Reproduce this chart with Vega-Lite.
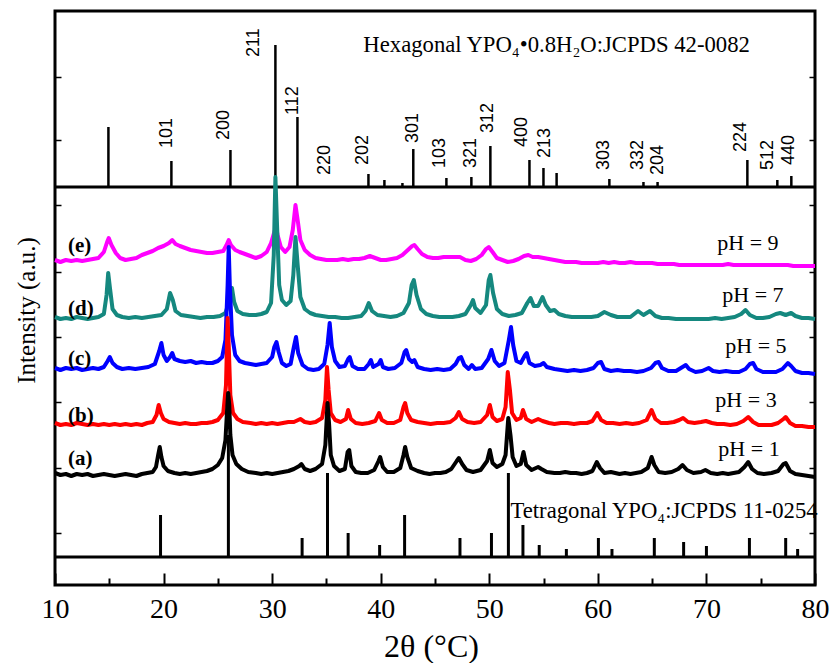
{
  "$schema": "https://vega.github.io/schema/vega-lite/v6.json",
  "width": 760,
  "height": 574,
  "autosize": {"type": "none"},
  "padding": {"left": 55, "top": 11, "right": 17, "bottom": 78},
  "background": "white",
  "config": {
    "view": {"stroke": "black", "strokeWidth": 3}
  },
  "resolve": {"axis": {"y": "independent", "x": "independent"}},
  "datasets": {
    "tet": [{"x":19.72,"y":70},{"x":25.97,"y":150},{"x":32.76,"y":47},{"x":35.1,"y":112},{"x":37.0,"y":52},{"x":39.9,"y":40},{"x":42.2,"y":70},{"x":47.3,"y":47},{"x":50.2,"y":52},{"x":51.76,"y":112},{"x":53.1,"y":60},{"x":54.6,"y":40},{"x":57.1,"y":36},{"x":60.05,"y":47},{"x":61.3,"y":36},{"x":65.2,"y":47},{"x":67.9,"y":43},{"x":70.0,"y":39},{"x":73.96,"y":47},{"x":77.3,"y":47},{"x":78.4,"y":36}],
    "hex": [{"x":14.92,"y":458},{"x":20.72,"y":424},{"x":26.16,"y":435},{"x":30.3,"y":540},{"x":32.33,"y":468},{"x":38.87,"y":411},{"x":40.34,"y":405},{"x":42.0,"y":402},{"x":43.0,"y":436},{"x":46.05,"y":407},{"x":48.35,"y":408},{"x":50.1,"y":439},{"x":53.7,"y":425},{"x":54.99,"y":417},{"x":56.2,"y":412},{"x":61.06,"y":406},{"x":64.2,"y":403},{"x":65.5,"y":403},{"x":73.77,"y":425},{"x":76.53,"y":405},{"x":77.82,"y":409}],
    "hkl": [{"t":"101","x":20.35,"y":437},{"t":"200","x":25.6,"y":445},{"t":"211","x":28.3,"y":528},{"t":"112","x":31.95,"y":470},{"t":"220","x":34.9,"y":410},{"t":"202","x":38.4,"y":420},{"t":"301","x":43.0,"y":442},{"t":"103","x":45.5,"y":417},{"t":"321","x":48.3,"y":417},{"t":"312","x":49.9,"y":452},{"t":"400","x":53.05,"y":438},{"t":"213","x":55.1,"y":427},{"t":"303","x":60.6,"y":415},{"t":"332","x":63.7,"y":415},{"t":"204","x":65.5,"y":410},{"t":"224","x":73.2,"y":433},{"t":"512","x":75.7,"y":415},{"t":"440","x":77.6,"y":420}],
    "ce": [{"x":10,"y":325},{"x":10.5,"y":323},{"x":11,"y":325},{"x":11.5,"y":324},{"x":12,"y":325},{"x":12.5,"y":324},{"x":13,"y":325},{"x":13.5,"y":326},{"x":14,"y":327},{"x":14.5,"y":333},{"x":14.8,"y":343},{"x":14.95,"y":347},{"x":15.2,"y":340},{"x":15.6,"y":332},{"x":16,"y":327},{"x":16.5,"y":325},{"x":17,"y":326},{"x":17.5,"y":327},{"x":18,"y":330},{"x":18.5,"y":332},{"x":19,"y":334},{"x":19.5,"y":337},{"x":20,"y":339},{"x":20.5,"y":342},{"x":20.8,"y":345},{"x":21.1,"y":341},{"x":21.5,"y":339},{"x":22,"y":337},{"x":22.5,"y":335},{"x":23,"y":334},{"x":23.5,"y":333},{"x":24,"y":332},{"x":24.5,"y":332},{"x":25,"y":333},{"x":25.5,"y":334},{"x":25.8,"y":340},{"x":26.0,"y":345},{"x":26.2,"y":340},{"x":26.6,"y":335},{"x":27,"y":333},{"x":27.5,"y":331},{"x":28,"y":329},{"x":28.5,"y":327},{"x":29,"y":329},{"x":29.5,"y":333},{"x":29.9,"y":342},{"x":30.2,"y":353},{"x":30.35,"y":358},{"x":30.5,"y":350},{"x":30.8,"y":338},{"x":31.2,"y":333},{"x":31.6,"y":338},{"x":31.9,"y":355},{"x":32.15,"y":380},{"x":32.35,"y":365},{"x":32.6,"y":345},{"x":33,"y":335},{"x":33.5,"y":330},{"x":34,"y":327},{"x":34.5,"y":326},{"x":35,"y":325},{"x":35.5,"y":325},{"x":36,"y":325},{"x":36.5,"y":326},{"x":37,"y":325},{"x":37.5,"y":326},{"x":38,"y":326},{"x":38.5,"y":327},{"x":39,"y":329},{"x":39.5,"y":327},{"x":40,"y":325},{"x":40.5,"y":325},{"x":41,"y":326},{"x":41.5,"y":327},{"x":42,"y":330},{"x":42.5,"y":335},{"x":42.9,"y":339},{"x":43.1,"y":340},{"x":43.4,"y":336},{"x":43.8,"y":331},{"x":44.3,"y":328},{"x":44.8,"y":327},{"x":45.3,"y":327},{"x":45.8,"y":328},{"x":46.3,"y":328},{"x":46.8,"y":328},{"x":47.3,"y":328},{"x":47.8,"y":325},{"x":48.3,"y":324},{"x":48.8,"y":326},{"x":49.3,"y":330},{"x":49.7,"y":336},{"x":49.95,"y":338},{"x":50.3,"y":333},{"x":50.7,"y":327},{"x":51.2,"y":325},{"x":51.7,"y":323},{"x":52.2,"y":324},{"x":52.7,"y":326},{"x":53.2,"y":329},{"x":53.6,"y":330},{"x":54.0,"y":328},{"x":54.5,"y":328},{"x":55,"y":327},{"x":55.5,"y":326},{"x":56,"y":325},{"x":56.5,"y":324},{"x":57,"y":323},{"x":57.5,"y":323},{"x":58,"y":323},{"x":58.5,"y":322},{"x":59,"y":322},{"x":59.5,"y":322},{"x":60,"y":322},{"x":60.5,"y":323},{"x":61,"y":322},{"x":61.5,"y":323},{"x":62,"y":322},{"x":62.5,"y":322},{"x":63,"y":323},{"x":63.5,"y":322},{"x":64,"y":322},{"x":64.5,"y":322},{"x":65,"y":322},{"x":65.5,"y":321},{"x":66,"y":321},{"x":66.5,"y":321},{"x":67,"y":321},{"x":67.5,"y":320},{"x":68,"y":320},{"x":68.5,"y":320},{"x":69,"y":320},{"x":70,"y":320},{"x":70.5,"y":320},{"x":71,"y":320},{"x":71.5,"y":320},{"x":72,"y":321},{"x":72.5,"y":320},{"x":73,"y":320},{"x":73.5,"y":320},{"x":74,"y":320},{"x":74.5,"y":320},{"x":75,"y":320},{"x":75.5,"y":320},{"x":76,"y":320},{"x":76.5,"y":320},{"x":77,"y":320},{"x":77.5,"y":320},{"x":78,"y":319},{"x":78.5,"y":319},{"x":79,"y":319},{"x":79.5,"y":319},{"x":80,"y":319}],
    "cd": [{"x":10,"y":268},{"x":10.5,"y":266},{"x":11,"y":267},{"x":11.5,"y":266},{"x":12,"y":268},{"x":12.5,"y":267},{"x":13,"y":266},{"x":13.5,"y":267},{"x":14,"y":268},{"x":14.5,"y":271},{"x":14.75,"y":290},{"x":14.9,"y":312},{"x":15.05,"y":298},{"x":15.3,"y":276},{"x":15.7,"y":270},{"x":16.2,"y":268},{"x":16.8,"y":267},{"x":17.4,"y":268},{"x":18,"y":267},{"x":18.6,"y":268},{"x":19.2,"y":269},{"x":19.8,"y":270},{"x":20.3,"y":276},{"x":20.6,"y":292},{"x":20.85,"y":285},{"x":21.1,"y":274},{"x":21.6,"y":270},{"x":22.2,"y":269},{"x":22.8,"y":268},{"x":23.4,"y":267},{"x":24,"y":268},{"x":24.6,"y":268},{"x":25.2,"y":269},{"x":25.7,"y":272},{"x":26.1,"y":285},{"x":26.3,"y":297},{"x":26.5,"y":283},{"x":26.8,"y":274},{"x":27.3,"y":271},{"x":27.9,"y":270},{"x":28.5,"y":270},{"x":29.0,"y":271},{"x":29.5,"y":273},{"x":29.9,"y":282},{"x":30.15,"y":330},{"x":30.3,"y":408},{"x":30.45,"y":360},{"x":30.65,"y":300},{"x":30.9,"y":285},{"x":31.3,"y":280},{"x":31.7,"y":284},{"x":31.95,"y":310},{"x":32.15,"y":348},{"x":32.35,"y":320},{"x":32.6,"y":288},{"x":33.0,"y":276},{"x":33.5,"y":272},{"x":34,"y":270},{"x":34.6,"y":269},{"x":35.2,"y":268},{"x":35.8,"y":268},{"x":36.4,"y":267},{"x":37,"y":267},{"x":37.6,"y":268},{"x":38.2,"y":269},{"x":38.6,"y":274},{"x":38.9,"y":282},{"x":39.2,"y":274},{"x":39.7,"y":270},{"x":40.3,"y":269},{"x":40.9,"y":268},{"x":41.5,"y":269},{"x":42.1,"y":272},{"x":42.6,"y":282},{"x":42.85,"y":300},{"x":43.05,"y":305},{"x":43.3,"y":290},{"x":43.7,"y":276},{"x":44.2,"y":271},{"x":44.8,"y":269},{"x":45.4,"y":268},{"x":46,"y":268},{"x":46.6,"y":268},{"x":47.2,"y":269},{"x":47.8,"y":271},{"x":48.3,"y":280},{"x":48.5,"y":285},{"x":48.7,"y":277},{"x":49.2,"y":272},{"x":49.7,"y":280},{"x":49.95,"y":305},{"x":50.1,"y":310},{"x":50.35,"y":292},{"x":50.7,"y":276},{"x":51.2,"y":271},{"x":51.8,"y":269},{"x":52.4,"y":270},{"x":53.0,"y":272},{"x":53.5,"y":282},{"x":53.8,"y":287},{"x":54.1,"y":279},{"x":54.5,"y":279},{"x":54.9,"y":288},{"x":55.2,"y":280},{"x":55.6,"y":274},{"x":56.0,"y":275},{"x":56.4,"y":271},{"x":57,"y":269},{"x":57.6,"y":268},{"x":58.2,"y":268},{"x":58.8,"y":268},{"x":59.4,"y":268},{"x":60.0,"y":269},{"x":60.6,"y":273},{"x":61.2,"y":270},{"x":61.8,"y":268},{"x":62.4,"y":268},{"x":63.0,"y":268},{"x":63.7,"y":274},{"x":64.2,"y":270},{"x":64.8,"y":274},{"x":65.3,"y":269},{"x":65.9,"y":267},{"x":66.5,"y":267},{"x":67.2,"y":266},{"x":67.8,"y":266},{"x":68.4,"y":266},{"x":69,"y":266},{"x":69.6,"y":266},{"x":70.2,"y":266},{"x":70.8,"y":267},{"x":71.4,"y":266},{"x":72,"y":267},{"x":72.6,"y":268},{"x":73.2,"y":271},{"x":73.6,"y":275},{"x":74.0,"y":270},{"x":74.6,"y":267},{"x":75.2,"y":267},{"x":75.8,"y":268},{"x":76.4,"y":271},{"x":76.8,"y":272},{"x":77.3,"y":270},{"x":77.8,"y":272},{"x":78.2,"y":269},{"x":78.8,"y":267},{"x":79.4,"y":267},{"x":80,"y":266}],
    "cc": [{"x":10,"y":217},{"x":10.5,"y":215},{"x":11,"y":217},{"x":11.5,"y":216},{"x":12,"y":217},{"x":12.5,"y":215},{"x":13,"y":216},{"x":13.5,"y":217},{"x":14,"y":216},{"x":14.5,"y":218},{"x":14.85,"y":224},{"x":15.05,"y":228},{"x":15.3,"y":222},{"x":15.7,"y":218},{"x":16.2,"y":216},{"x":16.8,"y":217},{"x":17.4,"y":216},{"x":18,"y":217},{"x":18.6,"y":218},{"x":19.2,"y":221},{"x":19.6,"y":234},{"x":19.8,"y":242},{"x":20.0,"y":230},{"x":20.3,"y":224},{"x":20.6,"y":228},{"x":20.8,"y":232},{"x":21.0,"y":226},{"x":21.5,"y":224},{"x":22,"y":223},{"x":22.5,"y":224},{"x":23,"y":222},{"x":23.5,"y":223},{"x":24,"y":222},{"x":24.5,"y":222},{"x":25.0,"y":224},{"x":25.4,"y":228},{"x":25.7,"y":245},{"x":25.9,"y":300},{"x":26.0,"y":338},{"x":26.1,"y":300},{"x":26.3,"y":250},{"x":26.6,"y":230},{"x":27,"y":224},{"x":27.5,"y":222},{"x":28,"y":221},{"x":28.5,"y":220},{"x":29,"y":221},{"x":29.5,"y":222},{"x":30.0,"y":228},{"x":30.2,"y":238},{"x":30.4,"y":243},{"x":30.6,"y":233},{"x":30.9,"y":222},{"x":31.3,"y":219},{"x":31.7,"y":221},{"x":32.0,"y":238},{"x":32.2,"y":248},{"x":32.4,"y":232},{"x":32.8,"y":220},{"x":33.3,"y":216},{"x":33.8,"y":215},{"x":34.3,"y":216},{"x":34.8,"y":221},{"x":35.1,"y":240},{"x":35.3,"y":262},{"x":35.5,"y":238},{"x":35.8,"y":224},{"x":36.2,"y":218},{"x":36.7,"y":219},{"x":37.0,"y":226},{"x":37.15,"y":228},{"x":37.4,"y":219},{"x":37.9,"y":216},{"x":38.5,"y":216},{"x":38.9,"y":221},{"x":39.1,"y":225},{"x":39.3,"y":218},{"x":39.8,"y":221},{"x":40.0,"y":225},{"x":40.2,"y":218},{"x":40.7,"y":216},{"x":41.3,"y":217},{"x":41.9,"y":222},{"x":42.2,"y":233},{"x":42.35,"y":235},{"x":42.6,"y":226},{"x":42.9,"y":223},{"x":43.1,"y":225},{"x":43.4,"y":218},{"x":44,"y":216},{"x":44.6,"y":215},{"x":45.2,"y":216},{"x":45.8,"y":215},{"x":46.4,"y":216},{"x":46.9,"y":221},{"x":47.2,"y":227},{"x":47.4,"y":228},{"x":47.7,"y":220},{"x":48.1,"y":216},{"x":48.4,"y":220},{"x":48.7,"y":216},{"x":49.3,"y":217},{"x":49.9,"y":226},{"x":50.2,"y":235},{"x":50.5,"y":224},{"x":50.9,"y":219},{"x":51.4,"y":222},{"x":51.8,"y":245},{"x":52.0,"y":258},{"x":52.2,"y":240},{"x":52.5,"y":224},{"x":52.9,"y":222},{"x":53.3,"y":230},{"x":53.45,"y":232},{"x":53.7,"y":222},{"x":54.2,"y":219},{"x":54.7,"y":220},{"x":55.0,"y":222},{"x":55.3,"y":218},{"x":56,"y":216},{"x":56.6,"y":215},{"x":57.2,"y":214},{"x":57.8,"y":215},{"x":58.4,"y":214},{"x":59,"y":215},{"x":59.6,"y":217},{"x":60.0,"y":222},{"x":60.3,"y":223},{"x":60.6,"y":216},{"x":61.2,"y":214},{"x":61.8,"y":215},{"x":62.4,"y":214},{"x":63,"y":214},{"x":63.6,"y":213},{"x":64.2,"y":214},{"x":64.9,"y":217},{"x":65.3,"y":222},{"x":65.6,"y":223},{"x":65.9,"y":217},{"x":66.5,"y":214},{"x":67.2,"y":214},{"x":67.8,"y":218},{"x":68.1,"y":220},{"x":68.4,"y":216},{"x":69,"y":213},{"x":69.6,"y":214},{"x":70.2,"y":217},{"x":70.6,"y":214},{"x":71.2,"y":213},{"x":71.8,"y":214},{"x":72.4,"y":213},{"x":73,"y":213},{"x":73.6,"y":216},{"x":74.0,"y":221},{"x":74.3,"y":222},{"x":74.6,"y":216},{"x":75.2,"y":213},{"x":75.8,"y":213},{"x":76.4,"y":213},{"x":77.0,"y":216},{"x":77.5,"y":222},{"x":77.8,"y":219},{"x":78.2,"y":214},{"x":78.8,"y":212},{"x":79.4,"y":212},{"x":80,"y":211}],
    "cb": [{"x":10,"y":162},{"x":10.5,"y":160},{"x":11,"y":161},{"x":11.5,"y":160},{"x":12,"y":162},{"x":12.5,"y":161},{"x":13,"y":160},{"x":13.5,"y":161},{"x":14,"y":160},{"x":14.5,"y":161},{"x":15,"y":160},{"x":15.5,"y":161},{"x":16,"y":160},{"x":16.5,"y":161},{"x":17,"y":160},{"x":17.5,"y":161},{"x":18,"y":160},{"x":18.5,"y":162},{"x":19.0,"y":163},{"x":19.35,"y":170},{"x":19.55,"y":180},{"x":19.75,"y":172},{"x":20.0,"y":166},{"x":20.5,"y":163},{"x":21,"y":162},{"x":21.5,"y":161},{"x":22,"y":162},{"x":22.5,"y":161},{"x":23,"y":161},{"x":23.5,"y":162},{"x":24,"y":162},{"x":24.5,"y":163},{"x":25.0,"y":165},{"x":25.5,"y":172},{"x":25.75,"y":200},{"x":25.9,"y":267},{"x":26.0,"y":240},{"x":26.15,"y":190},{"x":26.4,"y":172},{"x":26.8,"y":166},{"x":27.3,"y":163},{"x":28,"y":162},{"x":28.5,"y":161},{"x":29,"y":162},{"x":29.5,"y":161},{"x":30,"y":162},{"x":30.5,"y":161},{"x":31,"y":162},{"x":31.5,"y":163},{"x":32,"y":163},{"x":32.6,"y":166},{"x":33,"y":163},{"x":33.5,"y":162},{"x":34,"y":163},{"x":34.6,"y":167},{"x":34.9,"y":185},{"x":35.05,"y":218},{"x":35.2,"y":195},{"x":35.4,"y":172},{"x":35.8,"y":165},{"x":36.3,"y":163},{"x":36.8,"y":166},{"x":37.0,"y":175},{"x":37.25,"y":166},{"x":37.7,"y":162},{"x":38.3,"y":161},{"x":38.9,"y":162},{"x":39.5,"y":164},{"x":39.85,"y":172},{"x":40.1,"y":165},{"x":40.6,"y":162},{"x":41.2,"y":162},{"x":41.8,"y":165},{"x":42.1,"y":178},{"x":42.25,"y":182},{"x":42.45,"y":172},{"x":42.8,"y":165},{"x":43.4,"y":163},{"x":44,"y":162},{"x":44.6,"y":161},{"x":45.2,"y":162},{"x":45.8,"y":162},{"x":46.4,"y":163},{"x":46.9,"y":167},{"x":47.2,"y":173},{"x":47.5,"y":166},{"x":48,"y":163},{"x":48.6,"y":162},{"x":49.2,"y":163},{"x":49.8,"y":170},{"x":50.05,"y":180},{"x":50.3,"y":168},{"x":50.7,"y":164},{"x":51.2,"y":166},{"x":51.5,"y":178},{"x":51.7,"y":213},{"x":51.9,"y":195},{"x":52.1,"y":172},{"x":52.5,"y":165},{"x":52.9,"y":167},{"x":53.1,"y":175},{"x":53.4,"y":166},{"x":53.9,"y":163},{"x":54.5,"y":166},{"x":54.9,"y":164},{"x":55.5,"y":162},{"x":56,"y":161},{"x":56.6,"y":162},{"x":57.2,"y":162},{"x":57.8,"y":161},{"x":58.4,"y":162},{"x":59,"y":162},{"x":59.5,"y":164},{"x":59.95,"y":172},{"x":60.3,"y":165},{"x":60.8,"y":162},{"x":61.4,"y":162},{"x":62,"y":161},{"x":62.6,"y":162},{"x":63.2,"y":161},{"x":63.8,"y":162},{"x":64.5,"y":165},{"x":64.95,"y":175},{"x":65.3,"y":166},{"x":65.8,"y":162},{"x":66.4,"y":162},{"x":67,"y":163},{"x":67.5,"y":165},{"x":67.85,"y":167},{"x":68.3,"y":163},{"x":68.9,"y":162},{"x":69.5,"y":163},{"x":69.95,"y":164},{"x":70.5,"y":162},{"x":71,"y":161},{"x":71.6,"y":161},{"x":72.2,"y":160},{"x":72.8,"y":161},{"x":73.4,"y":164},{"x":73.85,"y":168},{"x":74.3,"y":163},{"x":74.8,"y":160},{"x":75.4,"y":160},{"x":76,"y":160},{"x":76.6,"y":162},{"x":77.1,"y":166},{"x":77.3,"y":168},{"x":77.7,"y":162},{"x":78.2,"y":159},{"x":78.8,"y":159},{"x":79.4,"y":158},{"x":80,"y":158}],
    "ca": [{"x":10.0,"y":112},{"x":10.5,"y":110},{"x":11,"y":111},{"x":11.5,"y":109},{"x":12,"y":111},{"x":12.5,"y":110},{"x":13,"y":111},{"x":13.5,"y":109},{"x":14,"y":110},{"x":14.5,"y":111},{"x":15,"y":110},{"x":15.5,"y":109},{"x":16,"y":110},{"x":16.5,"y":111},{"x":17,"y":110},{"x":17.5,"y":109},{"x":18,"y":111},{"x":18.5,"y":112},{"x":19.0,"y":113},{"x":19.3,"y":118},{"x":19.5,"y":130},{"x":19.65,"y":138},{"x":19.8,"y":128},{"x":20.0,"y":119},{"x":20.4,"y":114},{"x":21,"y":112},{"x":21.5,"y":111},{"x":22,"y":112},{"x":22.5,"y":111},{"x":23,"y":112},{"x":23.5,"y":113},{"x":24,"y":114},{"x":24.5,"y":116},{"x":25.0,"y":120},{"x":25.4,"y":127},{"x":25.7,"y":145},{"x":25.85,"y":175},{"x":25.95,"y":192},{"x":26.05,"y":180},{"x":26.15,"y":150},{"x":26.35,"y":130},{"x":26.7,"y":121},{"x":27.2,"y":116},{"x":27.8,"y":113},{"x":28.5,"y":112},{"x":29,"y":111},{"x":29.5,"y":112},{"x":30,"y":111},{"x":30.5,"y":112},{"x":31,"y":113},{"x":31.5,"y":114},{"x":32,"y":116},{"x":32.5,"y":119},{"x":32.7,"y":121},{"x":33,"y":116},{"x":33.5,"y":114},{"x":34,"y":116},{"x":34.6,"y":121},{"x":34.9,"y":140},{"x":35.1,"y":182},{"x":35.25,"y":160},{"x":35.4,"y":130},{"x":35.7,"y":119},{"x":36.2,"y":114},{"x":36.7,"y":116},{"x":36.95,"y":133},{"x":37.1,"y":135},{"x":37.3,"y":119},{"x":37.7,"y":113},{"x":38.2,"y":112},{"x":38.8,"y":112},{"x":39.4,"y":115},{"x":39.8,"y":124},{"x":39.95,"y":128},{"x":40.2,"y":118},{"x":40.6,"y":113},{"x":41.2,"y":113},{"x":41.8,"y":117},{"x":42.1,"y":130},{"x":42.25,"y":138},{"x":42.45,"y":128},{"x":42.8,"y":117},{"x":43.4,"y":114},{"x":44,"y":112},{"x":44.5,"y":111},{"x":45,"y":112},{"x":45.5,"y":112},{"x":46,"y":113},{"x":46.5,"y":116},{"x":47.0,"y":124},{"x":47.2,"y":127},{"x":47.5,"y":121},{"x":47.9,"y":115},{"x":48.5,"y":113},{"x":49.2,"y":115},{"x":49.8,"y":124},{"x":50.05,"y":135},{"x":50.3,"y":122},{"x":50.7,"y":118},{"x":51.2,"y":121},{"x":51.5,"y":130},{"x":51.75,"y":167},{"x":51.95,"y":150},{"x":52.15,"y":128},{"x":52.5,"y":119},{"x":52.9,"y":121},{"x":53.15,"y":133},{"x":53.4,"y":120},{"x":53.9,"y":115},{"x":54.5,"y":118},{"x":54.8,"y":116},{"x":55.3,"y":113},{"x":56,"y":112},{"x":56.5,"y":112},{"x":57,"y":113},{"x":57.5,"y":112},{"x":58,"y":112},{"x":58.5,"y":111},{"x":59,"y":112},{"x":59.5,"y":114},{"x":59.9,"y":123},{"x":60.2,"y":117},{"x":60.6,"y":112},{"x":61.2,"y":113},{"x":62,"y":111},{"x":62.5,"y":112},{"x":63,"y":111},{"x":63.5,"y":112},{"x":64,"y":113},{"x":64.6,"y":117},{"x":64.95,"y":128},{"x":65.2,"y":120},{"x":65.6,"y":113},{"x":66.2,"y":112},{"x":66.8,"y":113},{"x":67.4,"y":116},{"x":67.8,"y":120},{"x":68.2,"y":115},{"x":68.8,"y":112},{"x":69.5,"y":113},{"x":69.9,"y":115},{"x":70.4,"y":112},{"x":71,"y":111},{"x":71.5,"y":112},{"x":72,"y":111},{"x":72.5,"y":112},{"x":73,"y":113},{"x":73.5,"y":118},{"x":73.85,"y":123},{"x":74.2,"y":116},{"x":74.7,"y":112},{"x":75.3,"y":111},{"x":76,"y":112},{"x":76.6,"y":114},{"x":77.1,"y":121},{"x":77.3,"y":122},{"x":77.7,"y":114},{"x":78.2,"y":111},{"x":78.8,"y":110},{"x":79.4,"y":109},{"x":80,"y":108}]
  },
  "layer": [
    {
      "data": {"name": "tet"},
      "mark": {"type": "rule", "strokeWidth": 3, "color": "black"},
      "encoding": {
        "x": {"field": "x", "type": "quantitative", "scale": {"domain": [10, 80], "nice": false, "zero": false},
          "axis": {
            "orient": "bottom", "values": [10,20,30,40,50,60,70,80], "format": "d",
            "tickSize": -12, "tickWidth": 2, "tickColor": "black", "domain": false, "grid": false,
            "labelFont": "Liberation Serif", "labelFontSize": 28, "labelColor": "black", "labelPadding": 22,
            "labelFlush": false, "labelOverlap": false, "labelBound": false,
            "title": "2θ (°C)", "titleFont": "Liberation Serif", "titleFontSize": 32, "titleFontWeight": "normal",
            "titleColor": "black", "titleX": 376, "titleY": 61, "titleBaseline": "middle", "titleAlign": "center"
          }},
        "y": {"field": "y", "type": "quantitative", "scale": {"domain": [0, 574], "nice": false, "zero": false},
          "axis": {
            "orient": "left", "values": [52,117,183,248,313,380,445,508], "labels": false, "domain": false, "grid": false,
            "tickSize": -6, "tickWidth": 1.5, "tickColor": "black",
            "title": "Intensity (a.u.)", "titleFont": "Liberation Serif", "titleFontSize": 25, "titleFontWeight": "normal",
            "titleColor": "black", "titleX": -29, "titleY": 299, "titleBaseline": "middle", "titleAlign": "center", "titleAngle": 270
          }},
        "y2": {"datum": 28}
      }
    },
    {
      "data": {"name": "hex"},
      "mark": {"type": "rule", "strokeWidth": 2.5, "color": "black"},
      "encoding": {
        "x": {"field": "x", "type": "quantitative", "scale": {"domain": [10, 80], "nice": false, "zero": false},
          "axis": {"orient": "bottom", "values": [15,25,35,45,55,65,75], "labels": false, "domain": false, "grid": false,
            "tickSize": -7, "tickWidth": 2, "tickColor": "black", "title": null}},
        "y": {"field": "y", "type": "quantitative", "scale": {"domain": [0, 574], "nice": false, "zero": false},
          "axis": {"orient": "right", "values": [52,117,183,248,313,380,445,508], "labels": false, "domain": false, "grid": false,
            "tickSize": -6, "tickWidth": 1.5, "tickColor": "black", "title": null}},
        "y2": {"datum": 398}
      }
    },
    {
      "data": {"values": [{"y": 28}, {"y": 398}]},
      "mark": {"type": "rule", "strokeWidth": 3, "color": "black"},
      "encoding": {
        "y": {"field": "y", "type": "quantitative", "scale": {"domain": [0, 574], "nice": false, "zero": false}, "axis": null}
      }
    },
    {
      "data": {"name": "ce"},
      "mark": {"type": "line", "color": "#ff00ff", "strokeWidth": 4, "strokeJoin": "round", "clip": false},
      "encoding": {
        "x": {"field": "x", "type": "quantitative", "scale": {"domain": [10, 80], "nice": false, "zero": false}, "axis": null},
        "y": {"field": "y", "type": "quantitative", "scale": {"domain": [0, 574], "nice": false, "zero": false}, "axis": null}
      }
    },
    {
      "data": {"name": "cd"},
      "mark": {"type": "line", "color": "#15887f", "strokeWidth": 4, "strokeJoin": "round", "clip": false},
      "encoding": {
        "x": {"field": "x", "type": "quantitative", "scale": {"domain": [10, 80], "nice": false, "zero": false}, "axis": null},
        "y": {"field": "y", "type": "quantitative", "scale": {"domain": [0, 574], "nice": false, "zero": false}, "axis": null}
      }
    },
    {
      "data": {"name": "cc"},
      "mark": {"type": "line", "color": "#0000ff", "strokeWidth": 4, "strokeJoin": "round", "clip": false},
      "encoding": {
        "x": {"field": "x", "type": "quantitative", "scale": {"domain": [10, 80], "nice": false, "zero": false}, "axis": null},
        "y": {"field": "y", "type": "quantitative", "scale": {"domain": [0, 574], "nice": false, "zero": false}, "axis": null}
      }
    },
    {
      "data": {"name": "cb"},
      "mark": {"type": "line", "color": "#ff0000", "strokeWidth": 4, "strokeJoin": "round", "clip": false},
      "encoding": {
        "x": {"field": "x", "type": "quantitative", "scale": {"domain": [10, 80], "nice": false, "zero": false}, "axis": null},
        "y": {"field": "y", "type": "quantitative", "scale": {"domain": [0, 574], "nice": false, "zero": false}, "axis": null}
      }
    },
    {
      "data": {"name": "ca"},
      "mark": {"type": "line", "color": "#000000", "strokeWidth": 4, "strokeJoin": "round", "clip": false},
      "encoding": {
        "x": {"field": "x", "type": "quantitative", "scale": {"domain": [10, 80], "nice": false, "zero": false}, "axis": null},
        "y": {"field": "y", "type": "quantitative", "scale": {"domain": [0, 574], "nice": false, "zero": false}, "axis": null}
      }
    },
    {
      "data": {"name": "hkl"},
      "mark": {"type": "text", "angle": 270, "align": "left", "baseline": "middle", "font": "Liberation Sans", "fontSize": 18, "color": "black"},
      "encoding": {
        "x": {"field": "x", "type": "quantitative", "scale": {"domain": [10, 80], "nice": false, "zero": false}, "axis": null},
        "y": {"field": "y", "type": "quantitative", "scale": {"domain": [0, 574], "nice": false, "zero": false}, "axis": null},
        "text": {"field": "t"}
      }
    },
    {
      "data": {"values": [{"t": "(e)", "x": 11.2, "y": 333}, {"t": "(d)", "x": 11.2, "y": 270}, {"t": "(c)", "x": 11.2, "y": 220}, {"t": "(b)", "x": 11.2, "y": 163}, {"t": "(a)", "x": 11.2, "y": 120}]},
      "mark": {"type": "text", "align": "left", "baseline": "alphabetic", "font": "Liberation Serif", "fontSize": 21, "fontWeight": "bold", "color": "black"},
      "encoding": {
        "x": {"field": "x", "type": "quantitative", "scale": {"domain": [10, 80], "nice": false, "zero": false}, "axis": null},
        "y": {"field": "y", "type": "quantitative", "scale": {"domain": [0, 574], "nice": false, "zero": false}, "axis": null},
        "text": {"field": "t"}
      }
    },
    {
      "data": {"values": [{"t": "pH = 9", "x": 71.0, "y": 335}, {"t": "pH = 7", "x": 71.46, "y": 283}, {"t": "pH = 5", "x": 71.74, "y": 232}, {"t": "pH = 3", "x": 70.82, "y": 178}, {"t": "pH = 1", "x": 71.1, "y": 129}]},
      "mark": {"type": "text", "align": "left", "baseline": "alphabetic", "font": "Liberation Serif", "fontSize": 22, "color": "black"},
      "encoding": {
        "x": {"field": "x", "type": "quantitative", "scale": {"domain": [10, 80], "nice": false, "zero": false}, "axis": null},
        "y": {"field": "y", "type": "quantitative", "scale": {"domain": [0, 574], "nice": false, "zero": false}, "axis": null},
        "text": {"field": "t"}
      }
    },
    {
      "data": {"values": [{"t": "Hexagonal YPO₄•0.8H₂O:JCPDS 42-0082", "x": 38.4, "y": 533}, {"t": "Tetragonal YPO₄:JCPDS 11-0254", "x": 51.95, "y": 67}]},
      "mark": {"type": "text", "align": "left", "baseline": "alphabetic", "font": "Liberation Serif", "fontSize": 22.7, "color": "black"},
      "encoding": {
        "x": {"field": "x", "type": "quantitative", "scale": {"domain": [10, 80], "nice": false, "zero": false}, "axis": null},
        "y": {"field": "y", "type": "quantitative", "scale": {"domain": [0, 574], "nice": false, "zero": false}, "axis": null},
        "text": {"field": "t"}
      }
    }
  ]
}
